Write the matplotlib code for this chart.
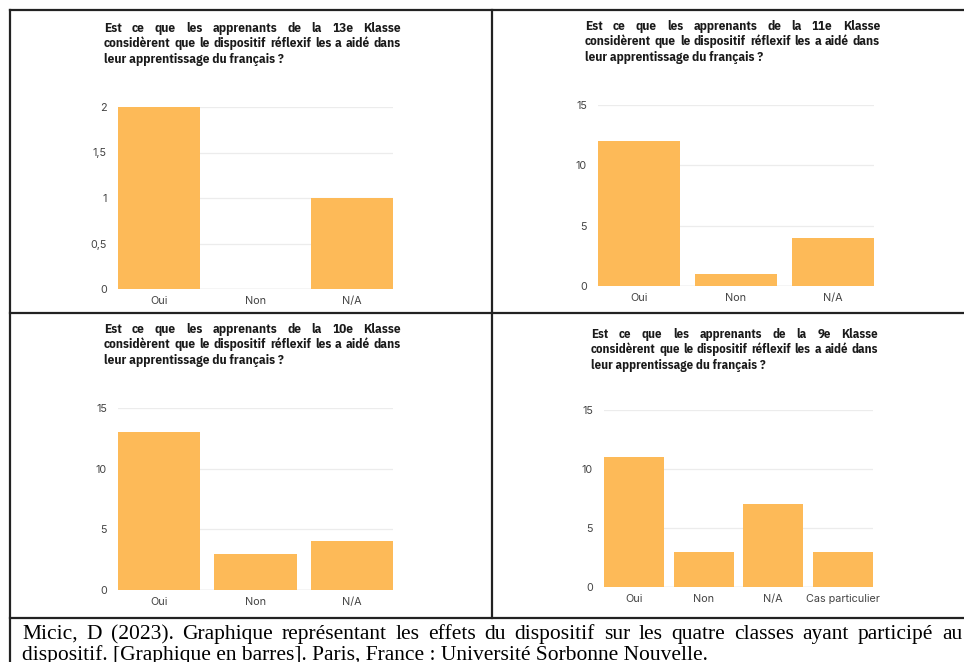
import matplotlib
matplotlib.use("Agg")
import matplotlib.pyplot as plt
from matplotlib.lines import Line2D

W, H = 964, 662

labels_3 = ["Oui", "Non", "N/A"]
labels_4 = ["Oui", "Non", "N/A", "Cas particulier"]

values_13 = [2, 0, 1]
values_11 = [12, 1, 4]
values_10 = [13, 3, 4]
values_9 = [11, 3, 7, 3]

ticks_13 = [0, 0.5, 1, 1.5, 2]
ticks_15 = [0, 5, 10, 15]

classes = ["13e", "11e", "10e", "9e"]

caption_lines = [
    "Micic, D (2023). Graphique représentant les effets du dispositif sur les quatre classes ayant participé au",
    "dispositif. [Graphique en barres]. Paris, France : Université Sorbonne Nouvelle.",
]

BAR = "#FDBA58"
TITLE_FONT = ["IBM Plex Sans Condensed", "Roboto", "DejaVu Sans"]
TICK_FONT = ["Inter", "DejaVu Sans"]
SERIF = ["Liberation Serif", "DejaVu Serif"]


def fx(x):
    return x / W


def fy(y):
    return 1 - y / H


fig = plt.figure(figsize=(W / 100, H / 100), dpi=100)
fig.patch.set_facecolor("white")
renderer = fig.canvas.get_renderer()


def text_width(s, **kw):
    t = fig.text(0, 0, s, **kw)
    w = t.get_window_extent(renderer).width
    t.remove()
    return w


def justify_line(line, x0, x1, y, **kw):
    # y is the baseline, in pixels from the top
    words = line.split(" ")
    texts = [fig.text(0, fy(y), w, va="baseline", ha="left", **kw) for w in words]
    widths = [t.get_window_extent(renderer).width for t in texts]
    gap = (x1 - x0 - sum(widths)) / (len(words) - 1)
    xpos = x0
    for t, w in zip(texts, widths):
        t.set_x(fx(xpos))
        xpos += w + gap


def title_block(lines, x0, x1, y_first, line_h):
    # size the text so the widest line nearly fills the box
    base = dict(family=TITLE_FONT, weight="bold", fontsize=9)
    w2 = text_width(lines[1], **base)
    size = 9 * (x1 - x0) / w2 * 0.98
    kw = dict(family=TITLE_FONT, weight="bold", fontsize=size, color="#1a1a1a")
    for i, line in enumerate(lines):
        y = y_first + i * line_h
        if i == len(lines) - 1:
            fig.text(fx(x0), fy(y), line, va="baseline", ha="left", **kw)
        else:
            justify_line(line, x0, x1, y, **kw)


def panel(values, labels, ticks, box, tick_fmt, title_box, klass):
    x0, x1, ytop, ybot = box
    ax = fig.add_axes([fx(x0), fy(ybot), fx(x1 - x0), (ybot - ytop) / H])
    n = len(values)
    width = 0.85 if n == 3 else 0.87
    ax.bar(range(n), values, width=width, color=BAR, zorder=3)
    ax.set_xlim(-width / 2, n - 1 + width / 2)
    ax.set_ylim(0, ticks[-1])
    ax.set_yticks(ticks)
    ax.set_yticklabels([tick_fmt(t) for t in ticks], family=TICK_FONT,
                       fontsize=7.8, color="#444444")
    ax.set_xticks(range(n))
    ax.set_xticklabels(labels, family=TICK_FONT, fontsize=7.8, color="#444444")
    ax.tick_params(length=0, pad=8)
    ax.tick_params(axis="x", pad=5)
    for s in ax.spines.values():
        s.set_visible(False)
    ax.grid(axis="y", color="#ececec", linewidth=0.9, zorder=0)
    ax.axhline(0, color="#dddddd", linewidth=1, zorder=2)
    tx0, tx1, ty = title_box
    title_block([
        f"Est ce que les apprenants de la {klass} Klasse",
        "considèrent que le dispositif réflexif les a aidé dans",
        "leur apprentissage du français ?",
    ], tx0, tx1, ty, 15.3)


def fmt_dec(t):
    return ("%g" % t).replace(".", ",")


panel(values_13, labels_3, ticks_13, (118, 393, 107, 289), fmt_dec,
      (104, 401, 32), classes[0])
panel(values_11, labels_3, ticks_15, (598, 874, 105, 286), fmt_dec,
      (585, 880, 30), classes[1])
panel(values_10, labels_3, ticks_15, (118, 393, 408, 590), fmt_dec,
      (104, 401, 333), classes[2])
panel(values_9, labels_4, ticks_15, (604, 873, 410, 587), fmt_dec,
      (591, 878, 338), classes[3])

# table borders
border = dict(color="#222222", linewidth=1.6, transform=fig.transFigure)
fig.add_artist(Line2D([fx(10), 1], [fy(10), fy(10)], **border))
fig.add_artist(Line2D([fx(10), fx(10)], [fy(10), 0], **border))
fig.add_artist(Line2D([fx(492), fx(492)], [fy(10), fy(618)], **border))
fig.add_artist(Line2D([fx(10), 1], [fy(313), fy(313)], **border))
fig.add_artist(Line2D([fx(10), 1], [fy(618), fy(618)], **border))

cap_kw = dict(family=SERIF, fontsize=15.5, color="black")
justify_line(caption_lines[0], 22, 962, 639, **cap_kw)
fig.text(fx(22), fy(660), caption_lines[1], va="baseline", ha="left", **cap_kw)

fig.savefig("out.png", dpi=100)
